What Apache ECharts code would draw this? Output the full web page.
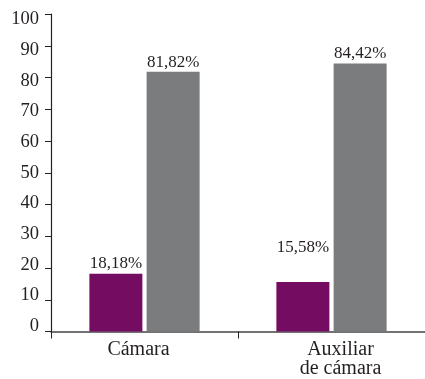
<!DOCTYPE html>
<html>
<head>
<meta charset="utf-8">
<script src="https://cdn.jsdelivr.net/npm/echarts@6/dist/echarts.min.js"></script>
<style>
  html, body { margin: 0; padding: 0; background: #fff; }
  #chart { width: 425px; height: 379px; }
</style>
</head>
<body>
<div id="chart"></div>
<script>
// Share of each role, two groups per category
const categories = ['Cámara', 'Auxiliar\nde cámara'];
const purpleValues = [18.18, 15.58];
const grayValues = [81.82, 84.42];
const yTicks = [0, 10, 20, 30, 40, 50, 60, 70, 80, 90, 100];

const FONT = '"Liberation Serif", "DejaVu Serif", serif';
const INK = '#231f20';

const fmtPct = v => v.toFixed(2).replace('.', ',') + '%';

// tick labels sit slightly closer together than the ticks themselves
const yRich = {};
yTicks.forEach(t => {
  const shift = (t - 50) * 0.11;
  yRich['t' + t] = {
    fontFamily: FONT, fontSize: 18.5, color: INK,
    padding: shift > 0 ? [2 * shift, 0, 0, 0] : [0, 0, -2 * shift, 0]
  };
});

const chart = echarts.init(document.getElementById('chart'), null, { renderer: 'canvas' });
chart.setOption({
  animation: false,
  grid: { left: 51, right: -6, top: 14, bottom: 46, containLabel: false },
  xAxis: {
    type: 'category',
    data: [
      { value: categories[0], textStyle: { padding: [0, 12, 0, 0] } },
      { value: categories[1], textStyle: { padding: [0, 0, 0, 18] } }
    ],
    axisLine: { lineStyle: { color: '#444', width: 1.5 } },
    axisTick: { show: true, length: 7, lineStyle: { color: '#222', width: 1 }, alignWithLabel: false },
    axisLabel: { fontFamily: FONT, fontSize: 20, lineHeight: 19, color: INK, margin: 9 }
  },
  yAxis: {
    type: 'value', min: 0, max: 100, interval: 10,
    splitLine: { show: false },
    axisLine: { show: true, lineStyle: { color: '#222', width: 1.2 } },
    axisTick: { show: true, length: 6, lineStyle: { color: '#222', width: 1 } },
    axisLabel: {
      margin: 12,
      formatter: v => '{t' + v + '|' + v + '}',
      rich: yRich
    }
  },
  series: [
    {
      type: 'bar',
      barWidth: 53,
      barGap: '8%',
      itemStyle: { color: '#740d62' },
      data: purpleValues.map((v, i) => i === 1
        ? { value: v, label: { distance: 26 } }
        : v),
      label: {
        show: true, position: 'top', distance: 2,
        fontFamily: FONT, fontSize: 17, color: INK,
        formatter: p => fmtPct(p.value)
      }
    },
    {
      type: 'bar',
      barWidth: 53,
      itemStyle: { color: '#7b7c7e' },
      data: grayValues,
      label: {
        show: true, position: 'top', distance: 1,
        fontFamily: FONT, fontSize: 17, color: INK,
        formatter: p => fmtPct(p.value)
      }
    }
  ]
});
</script>
</body>
</html>
